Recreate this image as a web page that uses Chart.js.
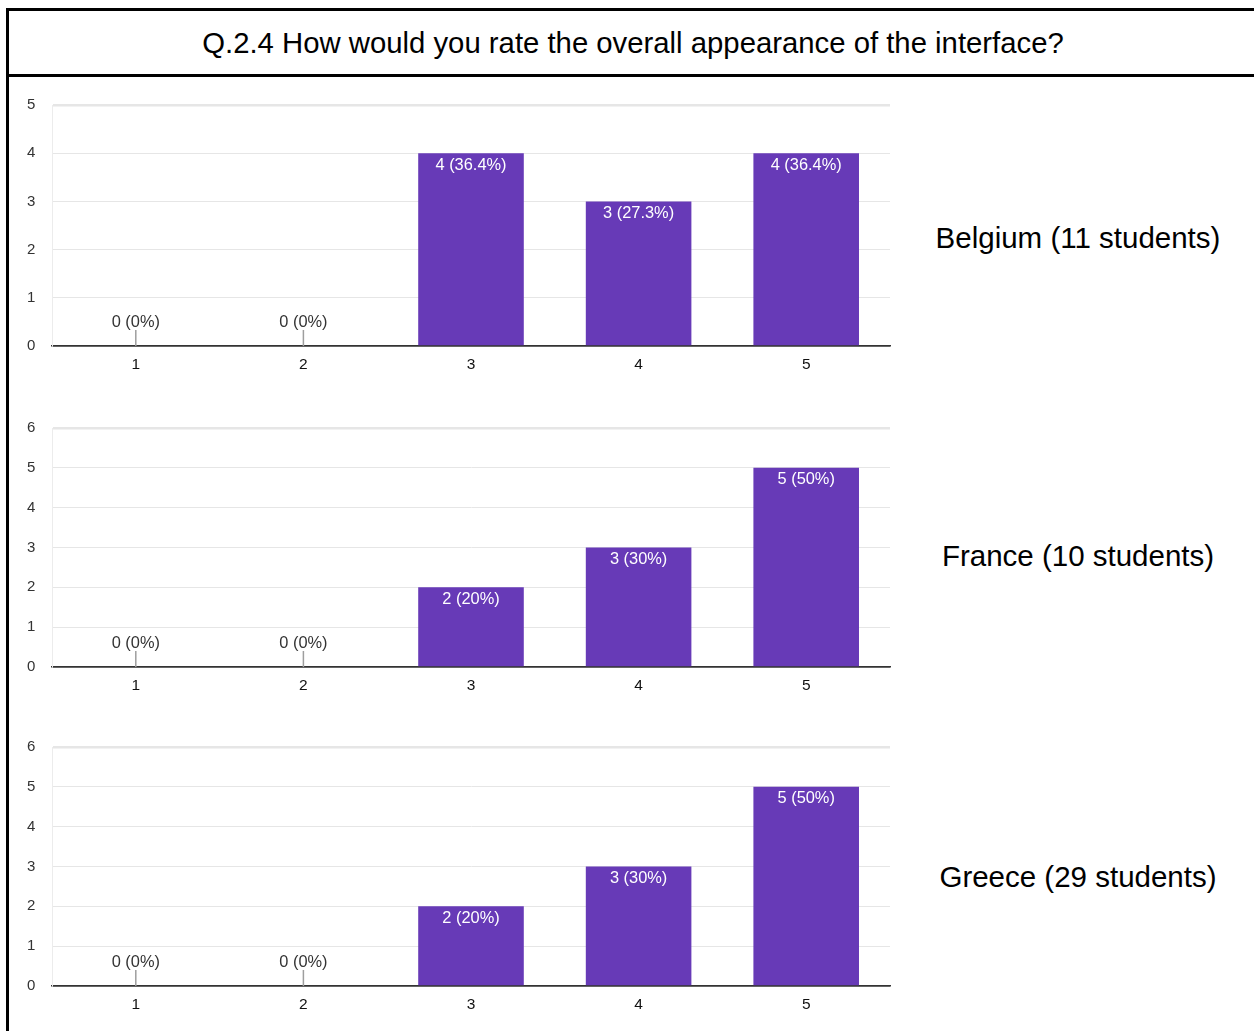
<!DOCTYPE html>
<html>
<head>
<meta charset="utf-8">
<script src="https://cdn.jsdelivr.net/npm/chart.js@4.4.1/dist/chart.umd.min.js"></script>
<style>
    html, body { margin: 0; padding: 0; background: #fff; }
    body { width: 1254px; height: 1031px; position: relative; overflow: hidden; font-family: "Liberation Sans", Arial, sans-serif; }
    #marco { position: absolute; left: 6px; top: 8px; right: -10px; bottom: -10px; border-left: 3px solid #000; border-top: 3px solid #000; }
    #titulo { position: absolute; left: 6px; top: 8px; right: -10px; height: 66px; border-bottom: 3px solid #000; }
    #titulo span { position: absolute; left: 0; width: 1254px; top: 35px; transform: translateY(-50%); text-align: center; font-size: 29.3px; color: #000; }
    .grafica { position: absolute; left: 10px; width: 890px; }
    .pais { position: absolute; left: 900px; width: 356px; text-align: center; font-size: 29.5px; color: #000; transform: translateY(-50%); }
</style>
</head>
<body>
<div id="marco"></div>
<div id="titulo"><span>Q.2.4 How would you rate the overall appearance of the interface?</span></div>

<div class="grafica" style="top:91px;height:290px;"><canvas id="chartBelgica"></canvas></div>
<div class="pais" style="top:238px;">Belgium (11 students)</div>

<div class="grafica" style="top:414px;height:288px;"><canvas id="chartFrancia"></canvas></div>
<div class="pais" style="top:556px;">France (10 students)</div>

<div class="grafica" style="top:733px;height:288px;"><canvas id="chartGrecia"></canvas></div>
<div class="pais" style="top:877px;">Greece (29 students)</div>

<script>
// Escala de valoración 1-5 y respuestas por país
const categorias = ['1', '2', '3', '4', '5'];
const respuestasBelgica = [0, 0, 4, 3, 4];
const respuestasFrancia = [0, 0, 2, 3, 5];
const respuestasGrecia = [0, 0, 2, 3, 5];
const maxBelgica = 5;
const maxFrancia = 6;
const maxGrecia = 6;

const MORADO = '#673ab7';
const FUENTE = '"Liberation Sans", Arial, sans-serif';

/**
 * Etiquetas "n (x%)": dentro de la barra en blanco, o encima con una
 * pequeña línea guía cuando el valor es cero
 */
const etiquetasBarras = {
    id: 'etiquetasBarras',
    afterDatasetsDraw(chart) {
        const ctx = chart.ctx;
        const datos = chart.data.datasets[0].data;
        const total = datos.reduce((a, b) => a + b, 0);
        const base = chart.scales.y.getPixelForValue(0);
        chart.getDatasetMeta(0).data.forEach((barra, i) => {
            const v = datos[i];
            const pct = Math.round(v / total * 1000) / 10;
            const texto = v + ' (' + pct + '%)';
            ctx.save();
            ctx.font = '16.4px ' + FUENTE;
            ctx.textAlign = 'center';
            ctx.textBaseline = 'middle';
            if (v === 0) {
                ctx.strokeStyle = '#9e9e9e';
                ctx.lineWidth = 1.5;
                ctx.beginPath();
                ctx.moveTo(barra.x, base);
                ctx.lineTo(barra.x, base - 16);
                ctx.stroke();
                ctx.fillStyle = '#333';
                ctx.fillText(texto, barra.x, base - 24);
            } else {
                ctx.fillStyle = '#fff';
                ctx.fillText(texto, barra.x, barra.y + 12);
            }
            ctx.restore();
        });
    }
};

function crearGrafica(id, datos, maximo) {
    const ctx = document.getElementById(id).getContext('2d');
    new Chart(ctx, {
        type: 'bar',
        data: {
            labels: categorias,
            datasets: [{
                data: datos,
                backgroundColor: MORADO,
                borderWidth: 0,
                barPercentage: 0.63,
                categoryPercentage: 1
            }]
        },
        options: {
            responsive: true,
            maintainAspectRatio: false,
            animation: false,
            layout: { padding: { top: 14, right: 10, bottom: 5, left: 17 } },
            plugins: {
                legend: { display: false },
                tooltip: { enabled: false }
            },
            scales: {
                x: {
                    grid: { display: false, drawTicks: false },
                    border: { color: '#333', width: 1.5 },
                    ticks: {
                        color: '#111',
                        padding: 9,
                        font: { size: 15.5, family: FUENTE }
                    },
                    afterFit(scale) { scale.height = 30; }
                },
                y: {
                    min: 0,
                    max: maximo,
                    grid: {
                        drawTicks: false,
                        color: (c) => c.tick && c.tick.value === 0 ? '#333' : '#e6e6e6',
                        lineWidth: (c) => c.tick && c.tick.value === 0 ? 1.5 : (c.tick && c.tick.value === maximo ? 2.5 : 1)
                    },
                    border: { display: true, color: '#ececec', width: 1 },
                    ticks: {
                        stepSize: 1,
                        color: '#333',
                        crossAlign: 'far',
                        padding: 0,
                        font: { size: 15, family: FUENTE }
                    },
                    afterFit(scale) { scale.width = 25; }
                }
            }
        },
        plugins: [etiquetasBarras]
    });
}

crearGrafica('chartBelgica', respuestasBelgica, maxBelgica);
crearGrafica('chartFrancia', respuestasFrancia, maxFrancia);
crearGrafica('chartGrecia', respuestasGrecia, maxGrecia);
</script>
</body>
</html>
